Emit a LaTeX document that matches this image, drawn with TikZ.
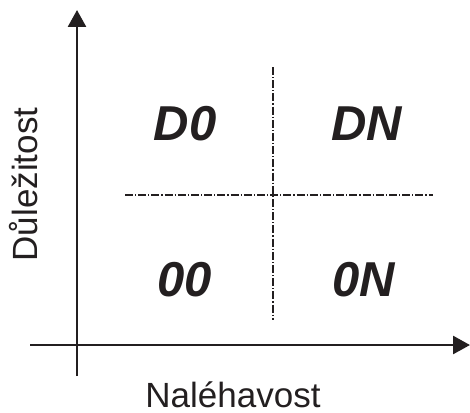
\documentclass[tikz,border=0pt]{standalone}
\usepackage{fontspec}
\setmainfont{Liberation Sans}
\usetikzlibrary{arrows.meta}
\definecolor{ink}{HTML}{231F20}
\begin{document}
\begin{tikzpicture}[x=1pt,y=-1pt,
  axis/.style={draw=ink,line width=2.7pt,-{Triangle[length=17pt,width=18pt]}},
  divider/.style={draw=ink,line width=1.9pt,dash pattern=on 8pt off 2pt on 1.2pt off 2pt},
  quad/.style={inner sep=0pt,text=ink,font=\fontsize{49}{49}\selectfont\bfseries\itshape},
  axlabel/.style={inner sep=0pt,text=ink,anchor=base,font=\fontsize{35}{35}\selectfont}]
\useasboundingbox (0,0) rectangle (470,412);
% axes
\coordinate (yfoot) at (77,376);
\coordinate (ytop) at (77,10);
\coordinate (xleft) at (30,345);
\coordinate (xright) at (470,345);
\draw[axis] (yfoot) -- (ytop);
\draw[axis] (xleft) -- (xright);
% quadrant dividers
\coordinate (vtop) at (273,67);
\coordinate (vbot) at (273,320);
\coordinate (hleft) at (125,195);
\coordinate (hright) at (433,195);
\draw[divider] (vtop) -- (vbot);
\draw[divider] (hleft) -- (hright);
% quadrant labels
\node[quad] (d0) at (185,124) {D0};
\node[quad] (dn) at (367,124) {DN};
\node[quad] (oo) at (185,280) {00};
\node[quad] (on) at (364,280) {0N};
% axis labels
\node[axlabel] (xlab) at (233,407) {Naléhavost};
\node[axlabel,rotate=90] (ylab) at (37,184.5) {Důležitost};
\end{tikzpicture}
\end{document}
